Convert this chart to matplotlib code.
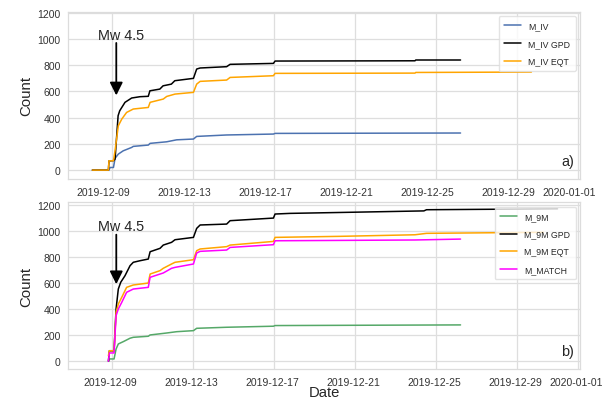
import numpy as np
import pandas as pd
import matplotlib
matplotlib.use("Agg")
import matplotlib.pyplot as plt
import matplotlib.dates as mdates
import matplotlib.transforms as mtransforms
import seaborn as sns

sns.set_style("whitegrid")
plt.rcParams['font.family'] = ['Liberation Sans', 'DejaVu Sans']

# ---------------- data (days relative to 2019-12-09 00:00) ----------------
ref_date = pd.Timestamp("2019-12-09")
event_day = 0.21

# Panel a
iv_days = [-0.97, -0.15, -0.10, 0.07, 0.15, 0.31, 0.55, 0.97, 1.05, 1.79, 1.88, 2.70, 3.19, 4.02, 4.18, 5.66, 7.97, 8.05, 17.21]
iv_cnt = [0, 0, 20, 20, 90, 122, 147, 173, 181, 191, 204, 216, 231, 237, 257, 268, 275, 280, 283]

ivgpd_days = [-0.97, -0.18, -0.15, 0.07, 0.15, 0.30, 0.38, 0.64, 0.97, 1.38, 1.79, 1.87, 2.36, 2.52, 2.93, 3.10, 4.02, 4.18, 4.35, 5.66, 5.83, 7.97, 8.05, 14.96, 15.00, 17.21]
ivgpd_cnt = [0, 0, 70, 72, 84, 415, 453, 517, 550, 560, 563, 605, 618, 643, 656, 682, 700, 771, 779, 789, 807, 814, 832, 834, 840, 840]

iveqt_days = [-0.97, -0.18, -0.15, 0.07, 0.15, 0.31, 0.48, 0.72, 1.05, 1.79, 1.88, 2.53, 2.70, 3.11, 4.02, 4.18, 4.35, 5.66, 5.83, 7.97, 8.05, 14.96, 15.00, 20.71]
iveqt_cnt = [0, 0, 71, 71, 150, 338, 389, 440, 466, 478, 517, 542, 562, 580, 593, 656, 677, 687, 707, 720, 738, 740, 745, 748]

# Panel b
m9_days = [-0.15, -0.13, 0.10, 0.20, 0.31, 0.56, 0.89, 1.05, 1.79, 1.88, 2.70, 3.19, 4.02, 4.18, 5.66, 7.97, 8.05, 17.21]
m9_cnt = [0, 17, 17, 93, 132, 150, 176, 183, 191, 201, 216, 226, 234, 252, 260, 268, 273, 278]

m9gpd_days = [-0.18, -0.13, 0.10, 0.20, 0.31, 0.43, 0.64, 0.89, 1.05, 1.38, 1.79, 1.88, 2.37, 2.53, 2.94, 3.11, 4.02, 4.18, 4.35, 5.66, 5.83, 7.97, 8.05, 8.79, 11.26, 15.40, 15.53, 22.00]
m9gpd_cnt = [0, 80, 80, 400, 553, 605, 655, 732, 758, 770, 783, 839, 865, 890, 911, 931, 949, 1018, 1044, 1051, 1077, 1097, 1128, 1133, 1140, 1152, 1161, 1168]

m9eqt_days = [-0.18, -0.13, 0.10, 0.20, 0.31, 0.48, 0.72, 1.05, 1.79, 1.88, 2.37, 2.53, 2.94, 3.11, 4.02, 4.18, 4.35, 5.66, 5.83, 7.97, 8.05, 11.26, 14.96, 15.53, 21.30]
m9eqt_cnt = [42, 80, 80, 375, 438, 490, 566, 584, 599, 668, 694, 712, 745, 758, 778, 847, 860, 878, 890, 918, 949, 957, 969, 980, 988]

match_days = [-0.18, -0.13, 0.10, 0.20, 0.31, 0.48, 0.72, 1.05, 1.79, 1.88, 2.53, 2.94, 3.11, 4.02, 4.18, 4.35, 5.66, 5.83, 7.97, 8.05, 14.96, 17.21]
match_cnt = [0, 63, 63, 349, 400, 451, 528, 553, 566, 643, 676, 712, 719, 745, 829, 842, 852, 872, 893, 923, 929, 936]


def to_dates(days):
    return ref_date + pd.to_timedelta(np.asarray(days), unit="D")


fig = plt.figure(figsize=(6.04, 4.02), dpi=100)
ax1 = fig.add_axes([0.1134, 0.5522, 0.8469, 0.4167])
ax2 = fig.add_axes([0.1134, 0.0796, 0.8469, 0.4147])

lw = 1.1
ax1.plot(to_dates(iv_days), iv_cnt, color="#4c72b0", lw=lw, label="M_IV")
ax1.plot(to_dates(ivgpd_days), ivgpd_cnt, color="black", lw=lw, label="M_IV GPD")
ax1.plot(to_dates(iveqt_days), iveqt_cnt, color="orange", lw=lw, label="M_IV EQT")

ax2.plot(to_dates(m9_days), m9_cnt, color="#55a868", lw=lw, label="M_9M")
ax2.plot(to_dates(m9gpd_days), m9gpd_cnt, color="black", lw=lw, label="M_9M GPD")
ax2.plot(to_dates(m9eqt_days), m9eqt_cnt, color="orange", lw=lw, label="M_9M EQT")
ax2.plot(to_dates(match_days), match_cnt, color="magenta", lw=lw, label="M_MATCH")

xmin = ref_date + pd.Timedelta(days=-2.15)
xmax = ref_date + pd.Timedelta(days=23.11)

ev = ref_date + pd.Timedelta(days=event_day)
ev_txt = ref_date + pd.Timedelta(days=event_day + 0.26)

for ax, ylim, tip, panel, shift in [(ax1, (-68, 1210), 570, "a)", -9),
                                     (ax2, (-60, 1218), 590, "b)", -2)]:
    ax.set_xlim(xmin, xmax)
    ax.set_ylim(*ylim)
    ax.set_yticks(np.arange(0, 1201, 200))
    ax.xaxis.set_major_locator(mdates.DayLocator(bymonthday=[1, 5, 9, 13, 17, 21, 25, 29]))
    ax.xaxis.set_major_formatter(mdates.DateFormatter("%Y-%m-%d"))
    ax.tick_params(axis="both", labelsize=7.5, length=0, pad=5.6, colors="#333333")
    ax.grid(True, color="#dedede", lw=0.9)
    for s in ax.spines.values():
        s.set_color("#dcdcdc")
        s.set_linewidth(0.9)
    ax.set_ylabel("Count", fontsize=10.8, labelpad=3)
    ax.legend(loc="upper right", fontsize=6.3, framealpha=0.8, edgecolor="#dddddd",
              labelspacing=1.0, borderpad=0.6)
    ax.annotate("", xy=(ev, tip), xytext=(ev, 970),
                arrowprops=dict(arrowstyle="-|>,head_length=0.6,head_width=0.3",
                                color="black", lw=1.3, mutation_scale=13,
                                shrinkA=0, shrinkB=0))
    ax.text(ev_txt, 1003, "Mw 4.5", ha="center", va="baseline", fontsize=10.4)
    ax.text(0.988, 0.11, panel, transform=ax.transAxes, ha="right", va="center", fontsize=10.4)
    off = mtransforms.ScaledTranslation(shift / 100.0, 0, fig.dpi_scale_trans)
    for lab in ax.get_xticklabels():
        lab.set_transform(lab.get_transform() + off)

ax2.set_xlabel("Date", fontsize=10.6, labelpad=-1)

fig.savefig("out.png", dpi=100)
